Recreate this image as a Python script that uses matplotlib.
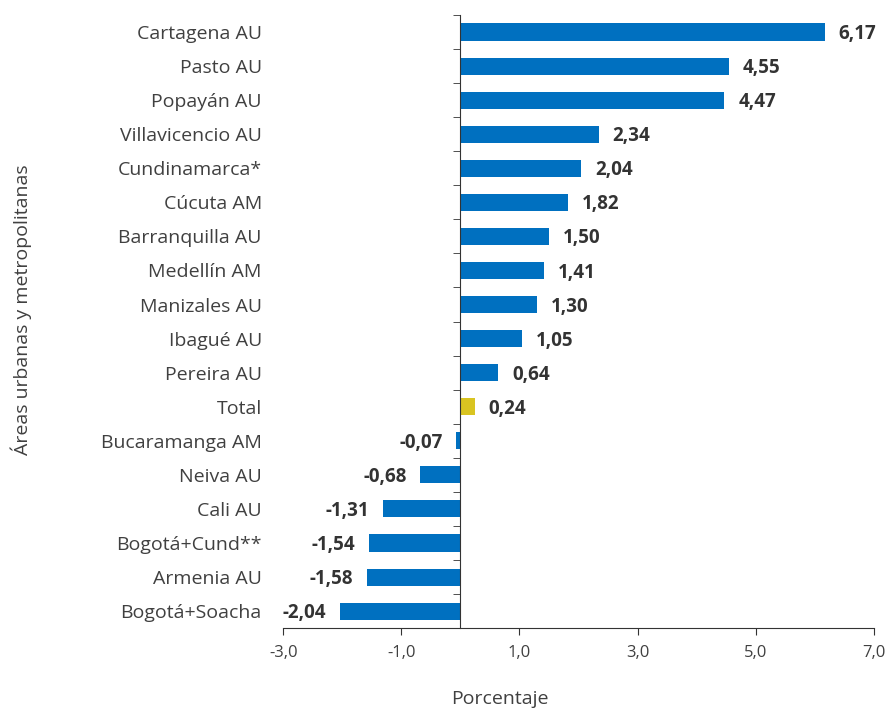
import matplotlib.pyplot as plt
import numpy as np

plt.rcParams['font.family'] = ['Open Sans', 'DejaVu Sans']

categories = ['Cartagena AU', 'Pasto AU', 'Popayán AU', 'Villavicencio AU',
              'Cundinamarca*', 'Cúcuta AM', 'Barranquilla AU', 'Medellín AM',
              'Manizales AU', 'Ibagué AU', 'Pereira AU', 'Total',
              'Bucaramanga AM', 'Neiva AU', 'Cali AU', 'Bogotá+Cund**',
              'Armenia AU', 'Bogotá+Soacha']
values = [6.17, 4.55, 4.47, 2.34, 2.04, 1.82, 1.50, 1.41, 1.30, 1.05, 0.64,
          0.24, -0.07, -0.68, -1.31, -1.54, -1.58, -2.04]
xticks = [-3, -1, 1, 3, 5, 7]

BLUE = '#0070C0'
YELLOW = '#D9C421'
TXT = '#404040'

fig = plt.figure(figsize=(8.88, 7.13), dpi=100)
ax = fig.add_axes([0.319, 0.119, 0.665, 0.86])

y = np.arange(len(categories))
colors = [YELLOW if c == 'Total' else BLUE for c in categories]
ax.barh(y, values, height=0.5, color=colors, zorder=2)

for yi, v in zip(y, values):
    lab = f'{v:.2f}'.replace('.', ',')
    if v >= 0:
        ax.annotate(lab, (v, yi), xytext=(10, -1.5), textcoords='offset points',
                    ha='left', va='center', fontsize=13.5, fontweight='bold',
                    color='#333333')
    else:
        ax.annotate(lab, (v, yi), xytext=(-10, -1.5), textcoords='offset points',
                    ha='right', va='center', fontsize=13.5, fontweight='bold',
                    color='#333333')

ax.set_xlim(-3, 7)
ax.set_ylim(len(categories) - 0.5, -0.5)
ax.set_xticks(xticks)
ax.set_xticklabels([f'{t:.1f}'.replace('.', ',') for t in xticks])

# y axis drawn at x = 0, labels pushed out to the left
ax.spines['left'].set_position(('data', 0))
ax.spines['left'].set_color('#333333')
ax.spines['bottom'].set_color('#333333')
ax.spines['top'].set_visible(False)
ax.spines['right'].set_visible(False)
ax.set_yticks(y)
ax.set_yticklabels(categories)
ax.set_yticks(np.arange(len(categories) + 1) - 0.5, minor=True)
ax.tick_params(axis='y', which='major', length=0, pad=143, labelsize=14,
               labelcolor=TXT)
ax.tick_params(axis='y', which='minor', length=5, direction='out',
               color='#333333')
ax.tick_params(axis='x', length=5, direction='out', labelsize=12,
               labelcolor=TXT, pad=7, color='#333333')

ax.set_xlabel('Porcentaje', fontsize=14, color=TXT)
ax.xaxis.set_label_coords(0.367, -0.101)
ax.set_ylabel('Áreas urbanas y metropolitanas', fontsize=14, color=TXT)
ax.yaxis.set_label_coords(-0.425, 0.52)

fig.savefig('out.png', dpi=100, facecolor='white')
